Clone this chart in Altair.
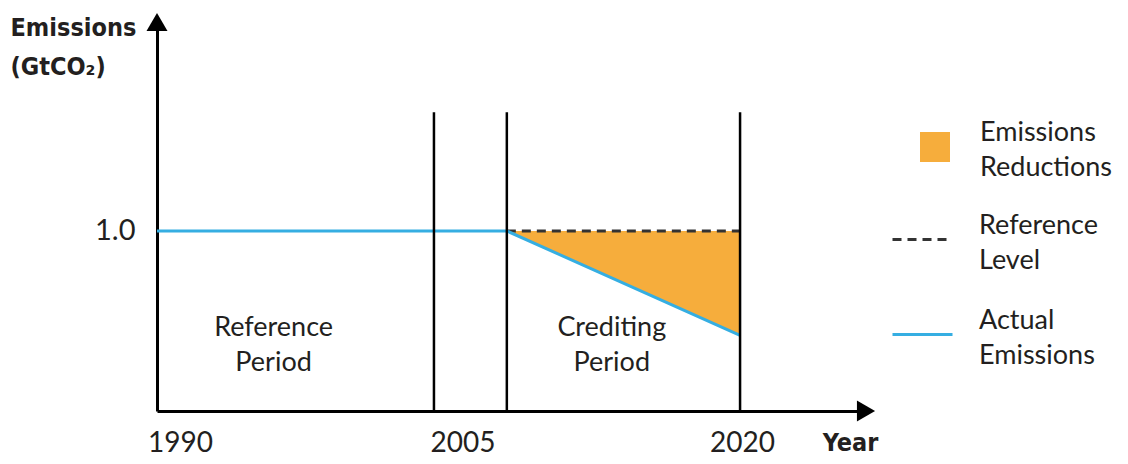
import altair as alt
import pandas as pd

# ---- data ----
actual_years = [1990, 2008, 2020]
actual_values = [1.0, 1.0, 0.42]
ref_years = [2008, 2020]
ref_values = [1.0, 1.0]
reduction_years = [2008, 2020]
reduction_low = [1.0, 0.42]
reduction_high = [1.0, 1.0]
boundary_years = [2004.25, 2008, 2020]
boundary_top = [1.66, 1.66, 1.66]
period_names = ["Reference\nPeriod", "Crediting\nPeriod"]
period_x = [1996.0, 2013.4]
period_y = [0.461, 0.461]
x_ticks = [1990, 2005, 2020]
y_ticks = [1.0]
X_MIN, X_MAX = 1990, 2026.48
Y_MIN, Y_MAX = 0, 2.161
arrow_x = [X_MIN, X_MAX]
arrow_y = [Y_MAX, Y_MIN]
arrow_shape = ["triangle-up", "triangle-right"]

ORANGE = "#F6AD3C"
BLUE = "#35AEE2"
TXT = "#231F20"
FONT = "Lato"
BOLD_FONT = "Liberation Sans Narrow, DejaVu Sans Condensed, Liberation Sans"

x_axis = alt.Axis(
    values=x_ticks, format="d", ticks=False, grid=False,
    domainColor="black", domainWidth=3, labelFlush=False,
    labelFont=FONT, labelFontSize=28, labelColor=TXT, labelPadding=18,
    labelLineHeight=28,
    labelOffset={"condition": [{"test": "datum.value == 1990", "value": 23},
                               {"test": "datum.value == 2005", "value": 14}],
                 "value": 2},
    title="Year", titleX=693, titleY=31, titleAlign="center",
    titleBaseline="middle", titleFont=BOLD_FONT, titleFontWeight="bold",
    titleFontSize=25, titleColor=TXT,
)
y_axis = alt.Axis(
    values=y_ticks, format=".1f", ticks=False, grid=False,
    domainColor="black", domainWidth=3,
    labelFont=FONT, labelFontSize=29, labelColor=TXT, labelPadding=22,
    labelLineHeight=30,
    title=["Emissions", "(GtCO\u2082)"], titleAngle=0, titleAlign="left",
    titleBaseline="top", titleX=-147, titleY=-7, titleLineHeight=39,
    titleFont=BOLD_FONT, titleFontWeight="bold", titleFontSize=25,
    titleColor=TXT,
)

xs = alt.Scale(domain=[X_MIN, X_MAX], nice=False, zero=False)
ys = alt.Scale(domain=[Y_MIN, Y_MAX], nice=False, zero=False)


def X(f):
    return alt.X(f"{f}:Q", scale=xs, axis=x_axis)


def Y(f):
    return alt.Y(f"{f}:Q", scale=ys, axis=y_axis)


area_df = pd.DataFrame({"year": reduction_years, "low": reduction_low,
                        "high": reduction_high,
                        "kind": ["Emissions Reductions"] * len(reduction_years)})
ref_df = pd.DataFrame({"year": ref_years, "value": ref_values,
                       "kind": ["Reference Level"] * len(ref_years)})
act_df = pd.DataFrame({"year": actual_years, "value": actual_values,
                       "kind": ["Actual Emissions"] * len(actual_years)})
bound_df = pd.DataFrame({"year": boundary_years, "bottom": [0] * 3,
                         "top": boundary_top})
text_df = pd.DataFrame({"year": period_x, "value": period_y,
                        "label": period_names})
arrow_df = pd.DataFrame({"year": arrow_x, "value": arrow_y,
                         "shape": arrow_shape})

legend_common = dict(orient="none", title=None, labelFont=FONT,
                     labelFontSize=27, labelColor=TXT, labelLimit=0,
                     labelExpr="split(datum.label, ' ')",
                     labelBaseline="bottom", padding=0)

area = alt.Chart(area_df).mark_area(opacity=1).encode(
    x=X("year"), y=Y("low"), y2="high",
    fill=alt.Fill("kind:N",
                  scale=alt.Scale(domain=["Emissions Reductions"], range=[ORANGE]),
                  legend=alt.Legend(symbolType="square", symbolSize=900,
                                    symbolStrokeWidth=0, symbolOpacity=1,
                                    labelOffset=30,
                                    legendX=763, legendY=110, **legend_common)),
)

ref_line = alt.Chart(ref_df).mark_line(strokeWidth=3, color="#333333").encode(
    x=X("year"), y=Y("value"),
    strokeDash=alt.StrokeDash("kind:N",
                              scale=alt.Scale(domain=["Reference Level"], range=[[9, 6]]),
                              legend=alt.Legend(symbolType="stroke", symbolSize=3600,
                                                symbolStrokeWidth=3,
                                                symbolStrokeColor="#333333",
                                                labelOffset=25,
                                                legendX=734, legendY=186,
                                                **legend_common)),
)

act_line = alt.Chart(act_df).mark_line(strokeWidth=3).encode(
    x=X("year"), y=Y("value"),
    stroke=alt.Stroke("kind:N",
                      scale=alt.Scale(domain=["Actual Emissions"], range=[BLUE]),
                      legend=alt.Legend(symbolType="stroke", symbolSize=3600,
                                        symbolStrokeWidth=3, labelOffset=25,
                                        legendX=734, legendY=281,
                                        **legend_common)),
)

bounds = alt.Chart(bound_df).mark_rule(strokeWidth=2.5, color="black").encode(
    x=X("year"), y=Y("bottom"), y2="top",
)

texts = alt.Chart(text_df).mark_text(
    font=FONT, fontSize=27, color=TXT, lineBreak="\n", lineHeight=35,
    align="center", baseline="middle",
).encode(x=X("year"), y=Y("value"), text="label:N")

arrows = alt.Chart(arrow_df).mark_point(filled=True, color="black", size=440,
                                        opacity=1).encode(
    x=X("year"), y=Y("value"), shape=alt.Shape("shape:N", scale=None),
)

chart = alt.layer(area, ref_line, act_line, bounds, texts, arrows).properties(
    width=709, height=389,
    autosize=alt.AutoSizeParams(type="none"),
    padding={"left": 149, "top": 14, "right": 254, "bottom": 45},
)
chart.config = alt.Config(
    view=alt.ViewConfig(stroke=None),
    style={"guide-label": {"lineHeight": 35}},
)

chart.save("out.html", embed_options={"renderer": "svg", "actions": False})
